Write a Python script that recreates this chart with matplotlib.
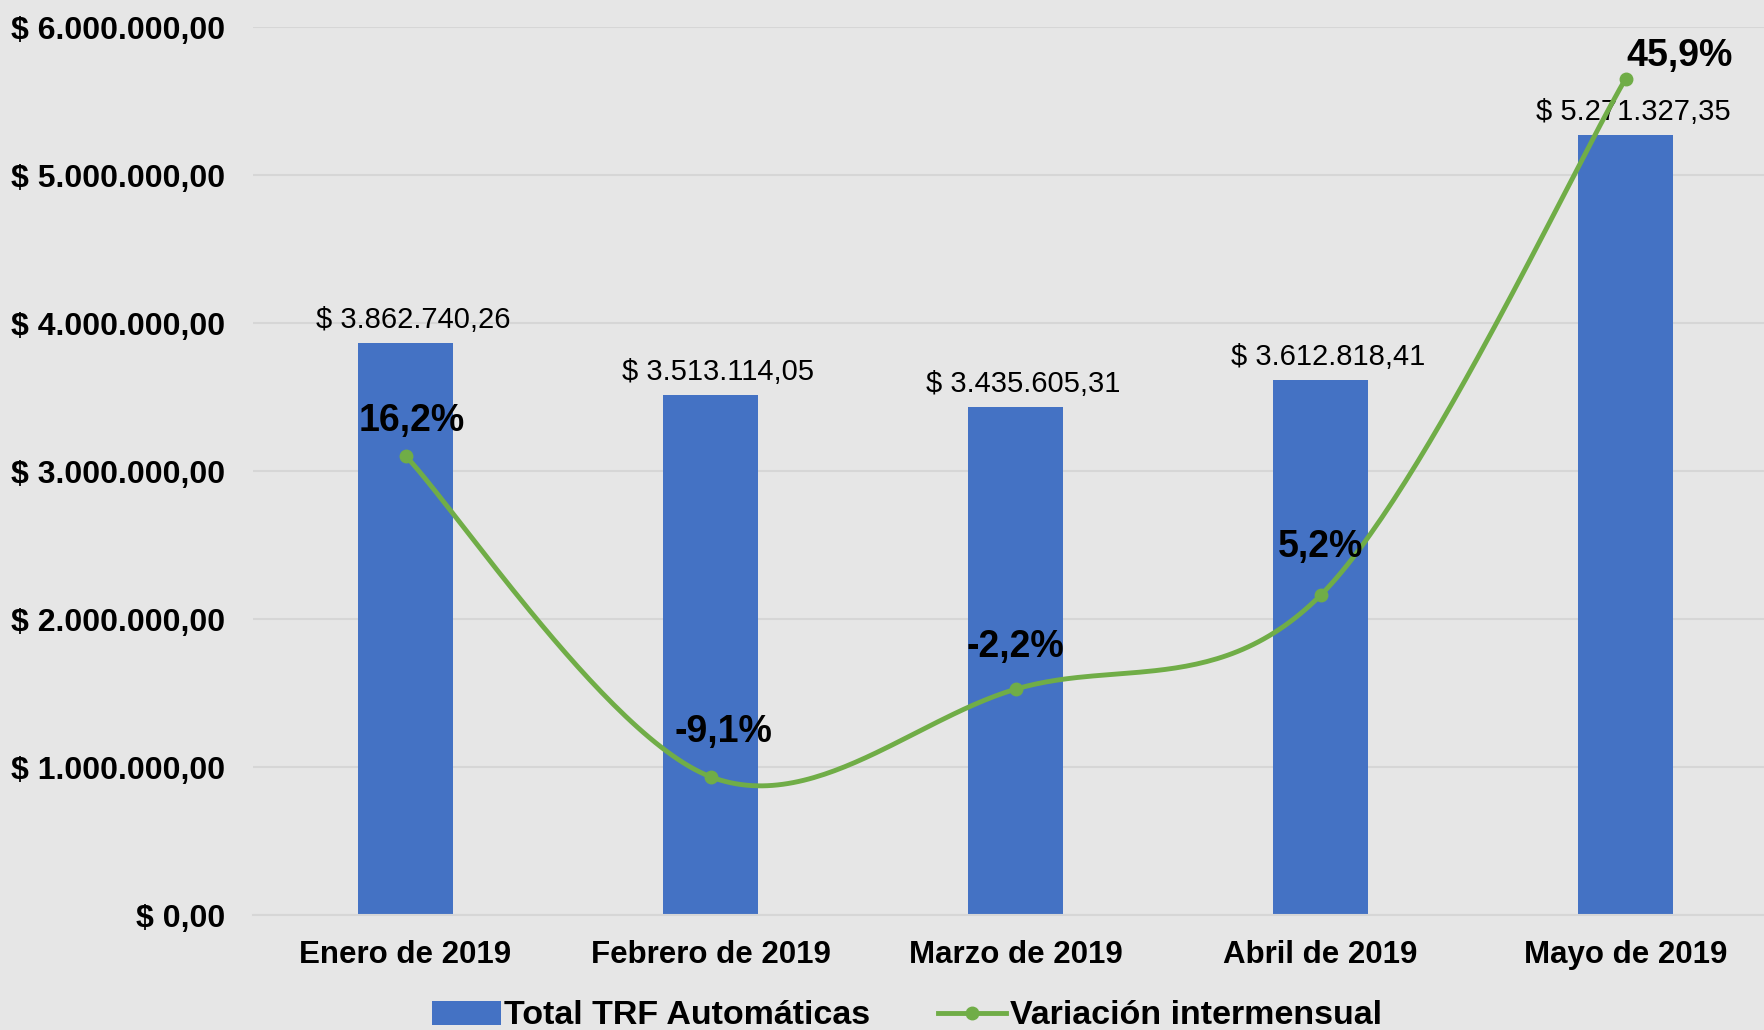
import numpy as np
import matplotlib
matplotlib.use('Agg')
import matplotlib.pyplot as plt
from matplotlib.lines import Line2D
from matplotlib.patches import Patch

# data
meses = ['Enero de 2019', 'Febrero de 2019', 'Marzo de 2019', 'Abril de 2019', 'Mayo de 2019']
total_trf = [3862740.26, 3513114.05, 3435605.31, 3612818.41, 5271327.35]
variacion = [16.2, -9.1, -2.2, 5.2, 45.9]

plt.rcParams['font.family'] = ['Liberation Sans', 'DejaVu Sans']

BG = '#E6E6E6'
BLUE = '#4472C4'
GREEN = '#70AD47'
GRID = '#D6D6D6'


def fmt_money(v):
    s = f'{v:,.2f}'
    s = s.replace(',', 'X').replace('.', ',').replace('X', '.')
    return '$ ' + s


def smooth(xs, ys, n=60):
    # excel-like smoothed line (bezier through the points)
    xs = np.asarray(xs, float)
    ys = np.asarray(ys, float)
    px = np.concatenate([[xs[0]], xs, [xs[-1]]])
    py = np.concatenate([[ys[0]], ys, [ys[-1]]])
    outx, outy = [], []
    t = np.linspace(0, 1, n)
    for i in range(1, len(px) - 2):
        p0 = np.array([px[i], py[i]])
        p3 = np.array([px[i + 1], py[i + 1]])
        p1 = p0 + (np.array([px[i + 1], py[i + 1]]) - np.array([px[i - 1], py[i - 1]])) / 6
        p2 = p3 - (np.array([px[i + 2], py[i + 2]]) - np.array([px[i], py[i]])) / 6
        b = ((1 - t) ** 3)[:, None] * p0 + (3 * (1 - t) ** 2 * t)[:, None] * p1 \
            + (3 * (1 - t) * t ** 2)[:, None] * p2 + (t ** 3)[:, None] * p3
        outx.extend(b[:, 0])
        outy.extend(b[:, 1])
    return outx, outy


fig = plt.figure(figsize=(17.65, 10.30), dpi=100, facecolor=BG)
ax = fig.add_axes([253 / 1765, 115 / 1030, 1525 / 1765, 888 / 1030])
ax.set_facecolor(BG)

x = np.arange(len(meses))
ax.bar(x, total_trf, width=0.31, color=BLUE, zorder=2)
ax.set_xlim(-0.5, len(meses) - 0.5)
ax.set_ylim(0, 6000000)
ax.set_yticks(np.arange(0, 6000001, 1000000))
ax.set_yticklabels([fmt_money(v) for v in np.arange(0, 6000001, 1000000)],
                   fontsize=23, fontweight='bold')
ax.set_xticks(x)
ax.set_xticklabels(meses, fontsize=22.5, fontweight='bold')
ax.tick_params(axis='y', length=0, pad=20)
ax.tick_params(axis='x', length=0, pad=18)
ax.grid(axis='y', color=GRID, linewidth=1.5, zorder=0)
for s in ['top', 'right', 'left']:
    ax.spines[s].set_visible(False)
ax.spines['bottom'].set_color(GRID)
ax.spines['bottom'].set_linewidth(1.5)

for xi, v in zip(x, total_trf):
    ax.annotate(fmt_money(v), (xi, v), xytext=(8, 9), textcoords='offset pixels',
                ha='center', va='bottom', fontsize=21, zorder=3)

# secondary axis for the variation
ax2 = ax.twinx()
ax2.set_ylim(-20, 50)
ax2.axis('off')
sx, sy = smooth(x, variacion)
ax2.plot(sx, sy, color=GREEN, linewidth=3.5, zorder=4)
ax2.plot(x, variacion, 'o', color=GREEN, markersize=9, zorder=5)

offsets = [(6, 35), (13, 45), (0, 42), (0, 48), (54, 23)]
for xi, v, off in zip(x, variacion, offsets):
    ax2.annotate(f'{v:.1f}%'.replace('.', ','), (xi, v), xytext=off,
                 textcoords='offset pixels', ha='center', va='center',
                 fontsize=27, fontweight='bold', zorder=6)

handles = [Patch(facecolor=BLUE), Line2D([0], [0], color=GREEN, lw=3.5, marker='o', markersize=9)]
fig.legend(handles, ['Total TRF Automáticas', 'Variación intermensual'],
           loc='center', bbox_to_anchor=(907 / 1765, 14 / 1030), ncol=2, frameon=False,
           prop={'size': 24.5, 'weight': 'bold'}, handlelength=2.0, handletextpad=0.1,
           columnspacing=2.0)

fig.savefig('out.png', dpi=100, facecolor=BG)
